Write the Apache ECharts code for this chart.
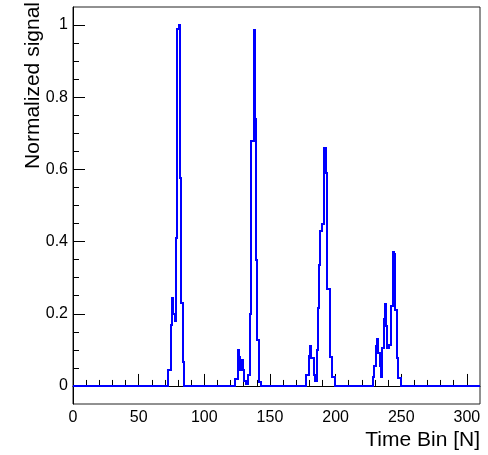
<!DOCTYPE html>
<html>
<head>
<meta charset="utf-8">
<script src="https://cdn.jsdelivr.net/npm/echarts@6/dist/echarts.min.js"></script>
<style>
html,body{margin:0;padding:0;background:#fff;}
#c{width:488px;height:455px;}
</style>
</head>
<body>
<div id="c"></div>
<script>
// Histogram with unit-wide bins centred on integer time bins 0..310; bins not listed are 0.
var nBins = 311;
var peak1Start = 73;
var peak1 = [0.044, 0.044, 0.17, 0.245, 0.20, 0.18, 0.41, 0.99, 1.0, 0.575, 0.23, 0.065];
var peak2Start = 124;
var peak2 = [0.02, 0.02, 0.10, 0.08, 0.045, 0.072, 0.045, 0.015, 0.005, 0.005, 0.03, 0.2, 0.68, 0.68, 0.987, 0.74, 0.35, 0.128, 0.01, 0.01];
var peak3Start = 178;
var peak3 = [0.03, 0.03, 0.083, 0.11, 0.078, 0.078, 0.03, 0.015, 0.10, 0.216, 0.336, 0.43, 0.45, 0.45, 0.658, 0.59, 0.27, 0.27, 0.08, 0.08, 0.026, 0.026];
var peak4Start = 229;
var peak4 = [0.026, 0.054, 0.11, 0.13, 0.09, 0.055, 0.026, 0.105, 0.185, 0.228, 0.165, 0.105, 0.114, 0.114, 0.222, 0.37, 0.365, 0.21, 0.077, 0.021, 0.021];

var xMajorTicks = [0, 50, 100, 150, 200, 250, 300];
var xMinorTicks = [10, 20, 30, 40, 60, 70, 80, 90, 110, 120, 130, 140, 160, 170, 180, 190, 210, 220, 230, 240, 260, 270, 280, 290];
var yMajorTicks = [0, 0.2, 0.4, 0.6, 0.8, 1];
var yMinorTicks = [0.05, 0.1, 0.15, 0.25, 0.3, 0.35, 0.45, 0.5, 0.55, 0.65, 0.7, 0.75, 0.85, 0.9, 0.95];

var xTitle = 'Time Bin [N]';
var yTitle = 'Normalized signal';

var bins = [];
for (var i = 0; i < nBins; i++) bins.push(0);
[[peak1Start, peak1], [peak2Start, peak2], [peak3Start, peak3], [peak4Start, peak4]].forEach(function (p) {
  p[1].forEach(function (v, k) { bins[p[0] + k] = v; });
});
// one item per bin: [bin centre, value, previous bin value]
var data = bins.map(function (v, i) { return [i, v, i > 0 ? bins[i - 1] : v]; });

function renderBin(params, api) {
  var k = api.value(0), v = api.value(1), vp = api.value(2);
  var a = api.coord([k - 0.5, vp]);
  var b = api.coord([k - 0.5, v]);
  var c = api.coord([k + 0.5, v]);
  var R = Math.round;
  return {
    type: 'polyline',
    shape: {points: [[R(a[0]), R(a[1])], [R(b[0]), R(b[1])], [R(c[0]), R(c[1])]]},
    style: {stroke: '#0000ff', lineWidth: 2, fill: null, lineCap: 'square', lineJoin: 'miter'},
    silent: true
  };
}

var FONT = '"Liberation Sans", Arial, Helvetica, sans-serif';
var chart = echarts.init(document.getElementById('c'), null, {renderer: 'canvas'});
chart.setOption({
  animation: false,
  backgroundColor: '#fff',
  grid: {left: 73, right: 8, top: 7, bottom: 51, show: true, borderColor: '#222', borderWidth: 1, backgroundColor: 'transparent'},
  xAxis: [{
    type: 'value', min: 0, max: 310, position: 'bottom',
    axisLine: {show: true, lineStyle: {color: '#000', width: 1}},
    axisTick: {show: true, inside: true, length: 12, customValues: xMajorTicks, lineStyle: {color: '#000', width: 1}},
    axisLabel: {show: true, customValues: xMajorTicks, color: '#000', fontSize: 16, fontFamily: FONT, margin: 6},
    splitLine: {show: false}
  }, {
    type: 'value', min: 0, max: 310, position: 'bottom', offset: 0,
    axisLine: {show: false},
    axisTick: {show: true, inside: true, length: 6, customValues: xMinorTicks, lineStyle: {color: '#000', width: 1}},
    axisLabel: {show: false},
    splitLine: {show: false}
  }],
  yAxis: [{
    type: 'value', min: -0.05, max: 1.05, position: 'left',
    axisLine: {show: true, lineStyle: {color: '#000', width: 1}},
    axisTick: {show: true, inside: true, length: 12, customValues: yMajorTicks, lineStyle: {color: '#000', width: 1}},
    axisLabel: {show: true, customValues: yMajorTicks, color: '#000', fontSize: 16, fontFamily: FONT, margin: 5},
    splitLine: {show: false}
  }, {
    type: 'value', min: -0.05, max: 1.05, position: 'left', offset: 0,
    axisLine: {show: false},
    axisTick: {show: true, inside: true, length: 6, customValues: yMinorTicks, lineStyle: {color: '#000', width: 1}},
    axisLabel: {show: false},
    splitLine: {show: false}
  }],
  graphic: [
    {type: 'text', x: 480, y: 430, style: {text: xTitle, fill: '#000', font: '21px ' + FONT, align: 'right', verticalAlign: 'top'}},
    {type: 'text', x: 23, y: 2, rotation: Math.PI / 2, style: {text: yTitle, fill: '#000', font: '21px ' + FONT, align: 'right', verticalAlign: 'top'}}
  ],
  series: [{
    type: 'custom', xAxisIndex: 0, yAxisIndex: 0,
    renderItem: renderBin, data: data, clip: true, silent: true,
    encode: {x: 0, y: 1}
  }]
});
</script>
</body>
</html>
